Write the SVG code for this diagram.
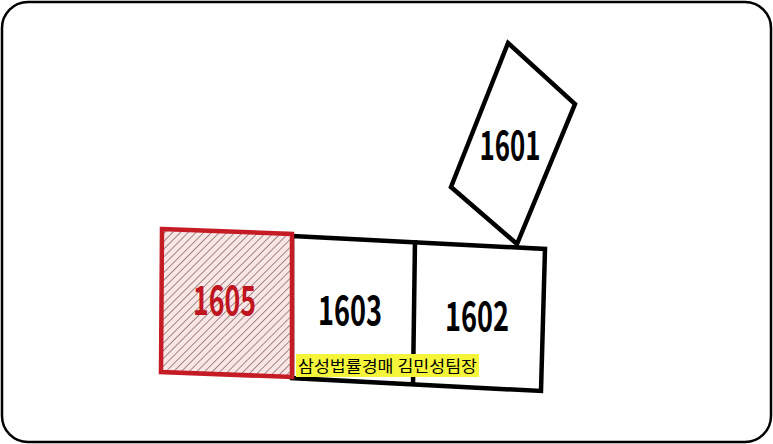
<svg xmlns="http://www.w3.org/2000/svg" width="773" height="444" viewBox="0 0 773 444">
<defs>
<style>
.num{font-family:"Noto Sans CJK KR","Noto Sans",sans-serif;font-weight:700;font-size:40px;text-anchor:middle}
.blk{fill:none;stroke:#000;stroke-width:4.5;stroke-linejoin:miter}
.cap{font-family:"Noto Sans CJK KR","Noto Sans",sans-serif;font-size:16px}
</style>
<pattern id="hatch" patternUnits="userSpaceOnUse" width="5.5" height="5.5" patternTransform="rotate(45)">
<rect width="5.5" height="5.5" fill="#fbe6e6"/>
<line x1="0" y1="0" x2="0" y2="5.5" stroke="#8a7070" stroke-width="1.6"/>
</pattern>
</defs>
<rect x="2" y="2" width="769" height="440" rx="26" ry="26" fill="#fff" stroke="#000" stroke-width="2.5"/>
<g id="n1603-1602">
<polygon class="blk" points="292,236 545,249 541,391 292,378"/>
<line class="blk" x1="415" y1="240" x2="413" y2="384"/>
</g>
<g id="n1601">
<polygon class="blk" points="508,43 575,104 517,244 451,187"/>
<text class="num" x="510" y="160" textLength="61" lengthAdjust="spacingAndGlyphs">1601</text>
</g>
<g id="n1605">
<polygon points="162,229 292,234 292,377 161,372" fill="url(#hatch)" stroke="#c51b24" stroke-width="4.5"/>
<text class="num" x="224.5" y="315" textLength="63" lengthAdjust="spacingAndGlyphs" fill="#c0141e">1605</text>
</g>
<g id="n1603">
<text class="num" x="350" y="325" textLength="64" lengthAdjust="spacingAndGlyphs">1603</text>
</g>
<g id="n1602">
<text class="num" x="477" y="331" textLength="64" lengthAdjust="spacingAndGlyphs">1602</text>
</g>
<g id="caption">
<rect x="296" y="354" width="183" height="23" fill="#f5f53a"/>
<text class="cap" x="298" y="372" textLength="179" lengthAdjust="spacingAndGlyphs">삼성법률경매 김민성팀장</text>
</g>
<g id="connectors"></g>
</svg>
